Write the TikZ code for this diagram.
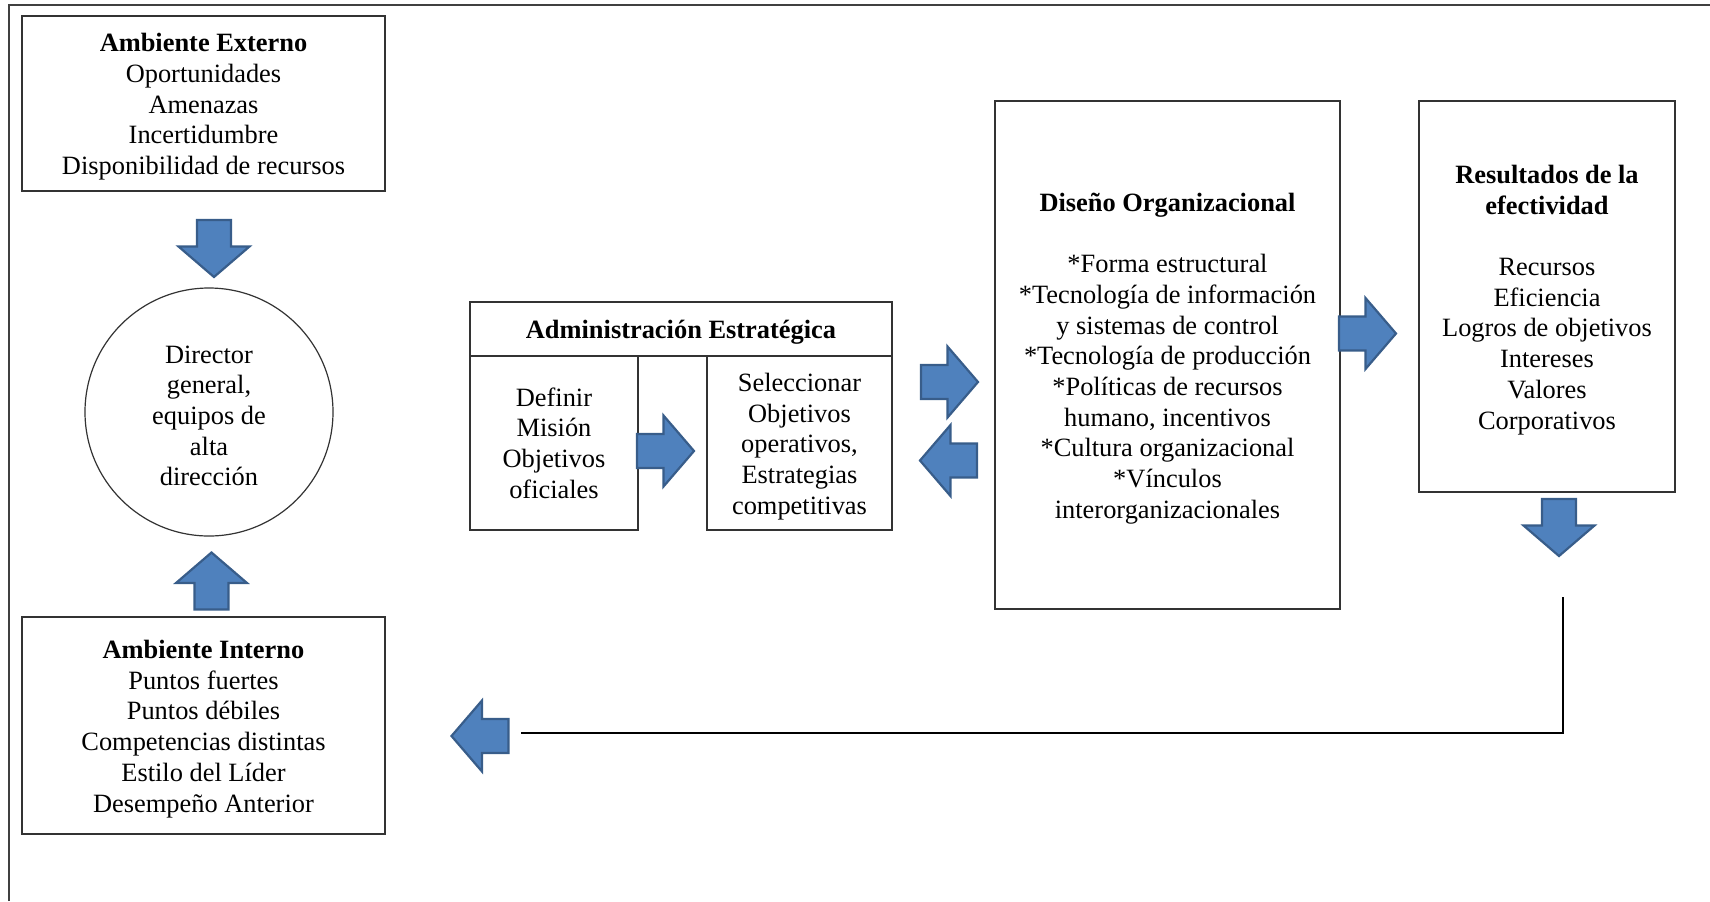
\documentclass[tikz,border=0pt]{standalone}
\usepackage{fontspec}
\setmainfont{Liberation Serif}
\definecolor{flechaazul}{RGB}{79,129,189}
\definecolor{flechaborde}{RGB}{56,93,138}
\newcommand{\alto}{\rule{0pt}{12.6pt}}
\tikzset{
  caja/.style={draw=black!80, line width=0.75pt, align=center, inner sep=0pt,
    font=\fontsize{13.2}{15.35}\selectfont},
  flecha/.pic={
    \filldraw[fill=flechaazul, draw=flechaborde, line width=1.1pt]
      (-28.5,-17) -- (-2,-17) -- (-2,-35.5) -- (28.5,0) -- (-2,35.5) -- (-2,17) -- (-28.5,17) -- cycle;
  }
}
\begin{document}
\begin{tikzpicture}[x=0.5pt, y=-0.5pt]
  \useasboundingbox (0,0) rectangle (1710,901);
  \draw[black!75, line width=1pt] (9,901) -- (9,5) -- (1710,5);

  % columna izquierda
  \node[caja, minimum width=181.5pt, minimum height=87.5pt] (ext) at (203.5,103.5)
    {\alto\textbf{Ambiente Externo}\\Oportunidades\\Amenazas\\Incertidumbre\\Disponibilidad de recursos};
  \node[caja, circle, line width=0.6pt, minimum size=124pt] (dir) at (209,412)
    {\alto Director\\general,\\equipos de\\alta\\dirección};
  \node[caja, minimum width=181.5pt, minimum height=108.5pt] (int) at (203.5,725.5)
    {\alto\textbf{Ambiente Interno}\\Puntos fuertes\\Puntos débiles\\Competencias distintas\\Estilo del Líder\\Desempeño Anterior};
  \pic[rotate=-90] (fExt) at (214,248.5) {flecha};
  \pic[rotate=90] (fInt) at (211.5,581) {flecha};

  % administracion estrategica
  \node[caja, minimum width=211pt, minimum height=27pt] (adm) at (681,329)
    {\alto\textbf{Administración Estratégica}};
  \node[caja, minimum width=84pt, minimum height=87pt] (def) at (554,443)
    {Definir\\Misión\\Objetivos\\oficiales};
  \node[caja, minimum width=92.5pt, minimum height=87pt] (sel) at (799.5,443)
    {\alto Seleccionar\\Objetivos\\operativos,\\Estrategias\\competitivas};
  \pic (fAdm) at (665.5,451) {flecha};
  \pic (fDisA) at (949.5,382) {flecha};
  \pic[rotate=180] (fDisB) at (948.5,460.5) {flecha};

  % diseno y resultados
  \node[caja, minimum width=172.5pt, minimum height=254pt] (dis) at (1167.5,355)
    {\alto\textbf{Diseño Organizacional}\\[15.35pt]*Forma estructural\\*Tecnología de información\\y sistemas de control\\*Tecnología de producción\\*Políticas de recursos\\humano, incentivos\\*Cultura organizacional\\*Vínculos\\interorganizacionales};
  \node[caja, minimum width=128pt, minimum height=195.5pt] (res) at (1547,296.5)
    {\alto\textbf{Resultados de la}\\\textbf{efectividad}\\[15.35pt]Recursos\\Eficiencia\\Logros de objetivos\\Intereses\\Valores\\Corporativos};
  \pic (fRes) at (1367.5,333.5) {flecha};
  \pic[rotate=-90] (fBaja) at (1559,527.5) {flecha};

  % retorno
  \coordinate (retA) at (1563,597);
  \coordinate (retB) at (521,733);
  \draw[line width=1.1pt] (retA) |- (retB);
  \pic[rotate=180] (fRet) at (480,736) {flecha};
\end{tikzpicture}
\end{document}
